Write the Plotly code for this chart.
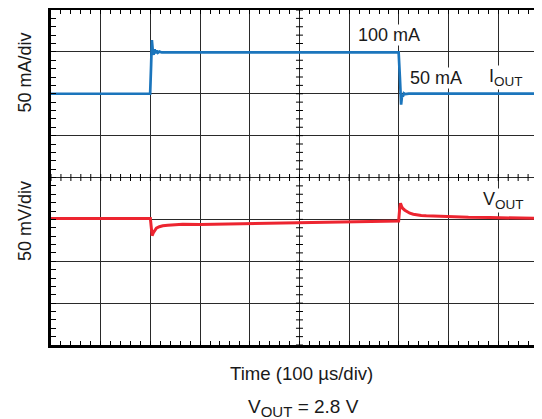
import plotly.graph_objects as go

# ---------------- data ----------------
# Output current I_OUT (mA) vs time (µs)
iout_t = [0, 199.5, 201.5, 203, 205, 206.5, 208.5, 210.5, 212.5, 215, 218, 223, 230,
          699.5, 702, 704.5, 706.5, 708, 710, 713, 720, 988]
iout_ma = [50, 50, 85, 114, 100, 96.5, 103, 98.5, 101.5, 99, 100.3, 99.3, 99.5,
           99.5, 70, 37, 49, 46.5, 50.5, 49.5, 50.2, 50.2]

# Output voltage deviation from 2.8 V (mV) vs time (µs)
vout_t = [0, 200, 201.5, 203.5, 206, 209, 212, 218, 225, 235, 245, 265, 300, 400, 500, 600,
          699.5, 701.5, 703.2, 705.5, 708, 712, 717, 722, 729, 735, 745, 755, 762, 780,
          802, 840, 883, 900, 940, 988]
vout_mv = [1.0, 1.0, -8, -19.5, -16, -12.5, -10.6, -8.8, -7.6, -6.9, -6.4, -5.9, -6.2, -5.3,
           -4.3, -3.2, -2.0, 12, 19.2, 15.5, 13, 11.0, 9.0, 7.4, 6.2, 5.4, 4.7, 4.2, 4.0, 3.4,
           2.9, 2.4, 2.1, 1.9, 1.6, 1.3]

# Axis settings (scope graticule)
t_range = [0, 988]          # µs, 100 µs/div
i_range = [-250, 150]       # mA, 50 mA/div
v_range = [-150, 250]       # mV, 50 mV/div
t_div, t_minor = 100, 20
i_div, i_minor = 50, 10
v_div, v_minor = 50, 10

# center graticule crossing ticks
center_t = 500
center_i = -50
hticks_t = list(range(0, 988, t_minor))
vticks_i = list(range(-250, 151, i_minor))

# ---------------- figure ----------------
# the page body has an 8 px margin, so the figure starts at (8, 8) in the window
OFF = 8
WIN_W, WIN_H = 542, 419
W, H = WIN_W - OFF, WIN_H - OFF
PLOT_L, PLOT_T, PLOT_B = 51, 10, 345     # plot-area edges in window pixels
L, R, T, B = PLOT_L - OFF, 0, PLOT_T - OFF, WIN_H - PLOT_B
FONT = "Liberation Sans, Arial, sans-serif"
TXT = "#1a1a1a"
GRID = "#2a2a2a"

fig = go.Figure()

# center graticule ticks
fig.add_trace(go.Scatter(x=hticks_t, y=[center_i] * len(hticks_t), mode="markers",
                         marker=dict(symbol="line-ns", size=5, line=dict(width=1, color="black")),
                         hoverinfo="skip", showlegend=False))
fig.add_trace(go.Scatter(x=[center_t] * len(vticks_i), y=vticks_i, mode="markers",
                         marker=dict(symbol="line-ew", size=5, line=dict(width=1, color="black")),
                         hoverinfo="skip", showlegend=False))

fig.add_trace(go.Scatter(x=iout_t, y=iout_ma, mode="lines",
                         line=dict(color="#1b75bc", width=2.7), showlegend=False))
fig.add_trace(go.Scatter(x=vout_t, y=vout_mv, mode="lines", yaxis="y2",
                         line=dict(color="#ed2530", width=3), showlegend=False))

fig.update_layout(
    width=W, height=H,
    margin=dict(l=L, r=R, t=T, b=B),
    paper_bgcolor="white", plot_bgcolor="white",
    font=dict(family=FONT, size=18, color=TXT),
    xaxis=dict(range=t_range, dtick=t_div, tick0=0, showgrid=True, gridcolor=GRID, gridwidth=1,
               zeroline=False, showticklabels=False, ticks="inside", ticklen=4, tickcolor="black",
               showline=True, linecolor="black", linewidth=2.5, mirror="ticks",
               minor=dict(dtick=t_minor, tick0=0, ticks="inside", ticklen=4, tickcolor="black",
                          showgrid=False)),
    yaxis=dict(range=i_range, dtick=i_div, tick0=0, showgrid=True, gridcolor=GRID, gridwidth=1,
               zeroline=False, showticklabels=False, ticks="inside", ticklen=5, tickcolor="black",
               showline=True, linecolor="black", linewidth=2.5, mirror=False,
               minor=dict(dtick=i_minor, tick0=0, ticks="inside", ticklen=5, tickcolor="black",
                          showgrid=False)),
    yaxis2=dict(range=v_range, dtick=v_div, tick0=0, overlaying="y", side="right",
                showgrid=False, zeroline=False, showticklabels=False, ticks="inside", ticklen=3,
                tickcolor="#c8c8c8", showline=False,
                minor=dict(dtick=v_minor, tick0=0, ticks="inside", ticklen=3, tickcolor="#c8c8c8",
                           showgrid=False)),
)

pw, ph = W - L - R, H - T - B


def px(x):   # window pixel -> paper
    return (x - PLOT_L) / pw


def py(y):
    return (PLOT_B - y) / ph


def ann(text, x, y, bg=None, angle=0, size=18, xanchor="center", yanchor="middle"):
    d = dict(text=text, x=px(x), y=py(y), xref="paper", yref="paper", showarrow=False,
             xanchor=xanchor, yanchor=yanchor, textangle=angle,
             font=dict(family=FONT, size=size, color=TXT), borderpad=0)
    if bg:
        d["bgcolor"] = bg
    fig.add_annotation(**d)


def sub(s, size):
    return "<sub><span style='font-size:%spx'>%s</span></sub>" % (size, s)


ann("50 mA/div", 24.5, 73, angle=-90)
ann("50 mV/div", 24.5, 221.5, angle=-90)
ann("100 mA", 389, 34.5, bg="white")
ann("50 mA", 435.5, 77.5, bg="white")
ann("I" + sub("OUT", 13.5), 505.5, 77.5, bg="white")
ann("V" + sub("OUT", 13.5), 503.5, 200.5, bg="white")
ann("Time (100 µs/div)", 301, 373.7, size=18.6)
ann("V" + sub("OUT", 15) + " = 2.8 V", 303.5, 408, size=19)

fig.write_html("out.html")
